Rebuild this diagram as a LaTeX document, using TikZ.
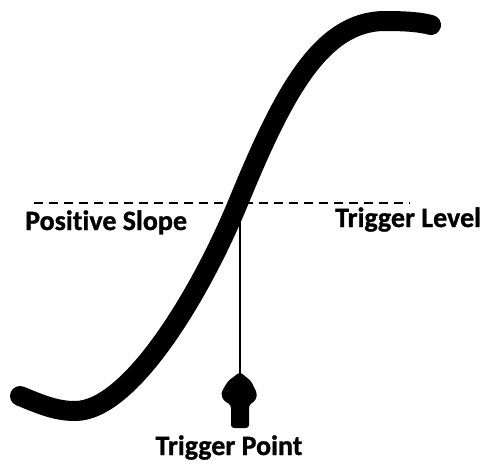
\documentclass[tikz,border=0pt]{standalone}
\usepackage{fontspec}
\setmainfont{Carlito}[Ligatures=NoCommon, BoldFeatures={FakeBold=1}]
\begin{document}
\begin{tikzpicture}[x=1pt,y=-1pt,
  lbl/.style={font=\fontsize{28}{30}\selectfont\bfseries, inner sep=0pt},
  curve/.style={line width=20pt, line cap=round, line join=round},
  level/.style={line width=2.8pt, dash pattern=on 8.5pt off 6.5pt},
  stem/.style={line width=2.6pt}]
\useasboundingbox (0,0) rectangle (487,464);
% S-curve
\draw[curve] (20,396) .. controls (40,404) and (55,411) .. (75,411)
  .. controls (130,411) and (200,295) .. (238,203)
  .. controls (282,96) and (320,21) .. (385,21)
  .. controls (405,21) and (420,22) .. (431,25);
% trigger level
\coordinate (dl) at (34,203);
\coordinate (dr) at (410,203);
\draw[level] (dl) -- (dr);
% trigger point
\coordinate (cross) at (240,203);
\coordinate (tip) at (240,374);
\draw[stem] (cross) -- (tip);
\fill[rounded corners=3pt] (240,372) -- (251,381) -- (257,393) -- (256,400) -- (249,405)
  -- (249,428) -- (231,428) -- (231,405) -- (223,400) -- (221,393) -- (228,381) -- cycle;
% labels
\node[lbl, anchor=base west] (pos) at (25,230) {Positive Slope};
\node[lbl, anchor=base west] (lev) at (335,227) {Trigger Level};
\node[lbl, anchor=base] (pt) at (229,455) {Trigger Point};
\end{tikzpicture}
\end{document}
